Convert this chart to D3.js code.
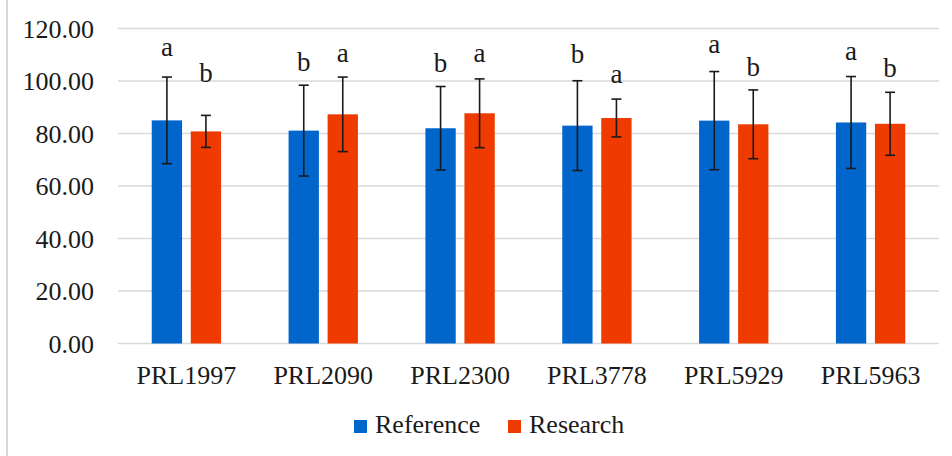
<!DOCTYPE html>
<html>
<head>
<meta charset="utf-8">
<script src="https://cdn.jsdelivr.net/npm/d3@7"></script>
<style>
  html, body { margin: 0; padding: 0; background: #fff; }
  svg { display: block; }
</style>
</head>
<body>
<svg id="chart" width="952" height="456"></svg>
<script>
// ---- data ----
const categories = ["PRL1997", "PRL2090", "PRL2300", "PRL3778", "PRL5929", "PRL5963"];
const seriesNames = ["Reference", "Research"];
const referenceMean = [85.0, 81.1, 82.0, 83.0, 84.9, 84.2];
const referenceSD   = [16.5, 17.3, 15.9, 17.1, 18.7, 17.5];
const researchMean  = [80.8, 87.3, 87.7, 85.9, 83.5, 83.7];
const researchSD    = [6.1, 14.2, 13.1, 7.2, 13.1, 12.0];
const referenceLetters = ["a", "b", "b", "b", "a", "a"];
const researchLetters  = ["b", "a", "a", "a", "b", "b"];
const referenceLetterY = [109.5, 104.0, 103.5, 106.7, 110.5, 108.0];
const researchLetterY  = [99.8, 107.4, 107.4, 99.1, 101.9, 101.4];
const yTicks = [0, 20, 40, 60, 80, 100, 120];
const colors = ["#0066cc", "#ef3b00"];

(function () {
const FONT = "'Liberation Serif', 'Times New Roman', serif";
const TXT = "#1a1a1a";
const svg = d3.select("#chart");
const plotLeft = 118, plotRight = 939, plotTop = 28.5, plotBottom = 343.5;

const y = d3.scaleLinear().domain([0, 120]).range([plotBottom, plotTop]);
const x0 = d3.scaleBand().domain(categories).range([plotLeft, plotRight]).paddingInner(0).paddingOuter(0);
const x1 = d3.scaleBand().domain(seriesNames).range([0, x0.bandwidth()])
  .paddingInner(0.223).paddingOuter(0.865);

// frame left edge
svg.append("line").attr("x1", 7).attr("x2", 7).attr("y1", 0).attr("y2", 456)
  .attr("stroke", "#d9d9d9").attr("stroke-width", 2);

// gridlines
svg.append("g").selectAll("line").data(yTicks).join("line")
  .attr("x1", plotLeft).attr("x2", plotRight)
  .attr("y1", d => y(d)).attr("y2", d => y(d))
  .attr("stroke", "#d9d9d9").attr("stroke-width", 1.5);

// y axis labels
const yAxis = d3.axisLeft(y).tickValues(yTicks).tickFormat(d3.format(".2f")).tickSize(0).tickPadding(0);
const gy = svg.append("g").attr("transform", `translate(94,0)`).call(yAxis);
gy.select(".domain").remove();
gy.selectAll("text").style("font-size", "26px").style("font-family", FONT)
  .style("fill", TXT).attr("dy", "0.34em");

// x axis labels
const xAxis = d3.axisBottom(x0).tickSize(0).tickPadding(0);
const gx = svg.append("g").attr("transform", `translate(0,${plotBottom})`).call(xAxis);
gx.select(".domain").remove();
gx.selectAll("text").style("font-size", "26px").style("font-family", FONT)
  .style("fill", TXT).attr("dy", 0).attr("y", 40);

// build rows
const rows = categories.map((c, i) => [
  { cat: c, s: seriesNames[0], m: referenceMean[i], sd: referenceSD[i], l: referenceLetters[i], ly: referenceLetterY[i], col: colors[0] },
  { cat: c, s: seriesNames[1], m: researchMean[i], sd: researchSD[i], l: researchLetters[i], ly: researchLetterY[i], col: colors[1] }
]).flat();

const cx = d => x0(d.cat) + x1(d.s) + x1.bandwidth() / 2;

// bars
svg.append("g").selectAll("rect").data(rows).join("rect")
  .attr("x", d => x0(d.cat) + x1(d.s))
  .attr("width", x1.bandwidth())
  .attr("y", d => y(d.m))
  .attr("height", d => y(0) - y(d.m))
  .attr("fill", d => d.col);

// error bars
const eb = svg.append("g").attr("stroke", "#1a1a1a").attr("stroke-width", 1.6);
eb.selectAll("line.v").data(rows).join("line").attr("class", "v")
  .attr("x1", cx).attr("x2", cx)
  .attr("y1", d => y(d.m + d.sd)).attr("y2", d => y(d.m - d.sd));
eb.selectAll("line.t").data(rows).join("line").attr("class", "t")
  .attr("x1", d => cx(d) - 5).attr("x2", d => cx(d) + 5)
  .attr("y1", d => y(d.m + d.sd)).attr("y2", d => y(d.m + d.sd));
eb.selectAll("line.b").data(rows).join("line").attr("class", "b")
  .attr("x1", d => cx(d) - 5).attr("x2", d => cx(d) + 5)
  .attr("y1", d => y(d.m - d.sd)).attr("y2", d => y(d.m - d.sd));

// significance letters
svg.append("g").selectAll("text").data(rows).join("text")
  .attr("x", cx).attr("y", d => y(d.ly))
  .attr("text-anchor", "middle")
  .style("font-size", "27px").style("font-family", FONT).style("fill", TXT)
  .text(d => d.l);

// legend
const legend = svg.append("g");
const legX = [354, 508];
seriesNames.forEach((s, i) => {
  legend.append("rect").attr("x", legX[i]).attr("y", 420).attr("width", 13).attr("height", 13).attr("fill", colors[i]);
  legend.append("text").attr("x", legX[i] + 21).attr("y", 433)
    .style("font-size", "26px").style("font-family", FONT).style("fill", TXT).text(s);
});
})();
</script>
</body>
</html>
